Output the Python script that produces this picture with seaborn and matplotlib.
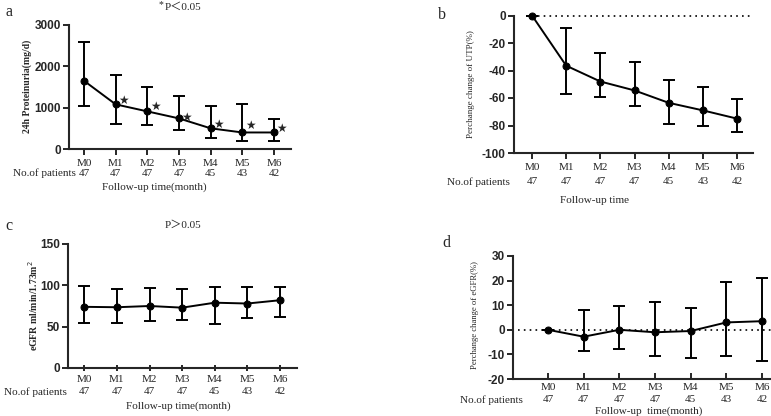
import numpy as np
import pandas as pd
import matplotlib
matplotlib.use("Agg")
import matplotlib.pyplot as plt
import seaborn as sns

sns.set_theme(style="ticks")
plt.rcParams['font.family'] = ['Liberation Serif', 'DejaVu Serif']

# ---------------- data ----------------
months = ["M0", "M1", "M2", "M3", "M4", "M5", "M6"]
n_patients = [47, 47, 47, 47, 45, 43, 42]

# a: 24h proteinuria (mg/d)
prot_mean = [1650, 1080, 910, 740, 500, 400, 400]
prot_low = [1050, 600, 580, 450, 260, 200, 190]
prot_high = [2600, 1780, 1500, 1290, 1030, 1080, 720]
star_y = [None, 1180, 1040, 760, 590, 580, 490]

# b: percentage change of UTP (%)
utp_mean = [0, -36.5, -48, -54.5, -63.5, -69, -75]
utp_low = [0, -57, -59, -65.5, -79, -80, -84.5]
utp_high = [0, -9, -27, -34, -47, -52, -61]

# c: eGFR
egfr_mean = [74, 73.5, 75, 73, 79, 78, 82]
egfr_low = [55, 54, 57, 58, 53, 61, 62]
egfr_high = [99, 96, 97, 95, 98, 98, 98]

# d: percentage change of eGFR (%)
degfr_mean = [0, -2.8, 0, -1, -0.5, 3, 3.5]
degfr_low = [0, -8.5, -8, -10.5, -11.5, -10.5, -12.7]
degfr_high = [0, 8, 9.8, 11.2, 9, 19.3, 21.2]

W, H = 771, 416
fig = plt.figure(figsize=(W / 100, H / 100), dpi=100)


def add_ax(l, t, r, b):
    return fig.add_axes([l / W, 1 - b / H, (r - l) / W, (b - t) / H])


def yfrac(ax, ypx):
    bb = ax.get_position()
    return ((1 - ypx / H) - bb.y0) / bb.height


def draw_panel(ax, mean, low, high, xlim, ylim, yticks, tickdir, zero_line=False, zl_start=0.0):
    x = np.arange(len(months))
    df = pd.DataFrame({"x": x, "y": mean})
    if zero_line:
        ax.plot([zl_start, xlim[1]], [0, 0], ls=(0, (1, 2.5)), color="black", lw=1.2, clip_on=False, zorder=1)
    m = np.array(mean, float)
    yerr = np.vstack([m - np.array(low, float), np.array(high, float) - m])
    ax.errorbar(x, m, yerr=yerr, fmt="none", ecolor="black", elinewidth=1.4, capsize=4, capthick=1.4,
                clip_on=False, zorder=2)
    sns.lineplot(data=df, x="x", y="y", ax=ax, color="black", lw=1.4, marker="o", markersize=5,
                 markeredgecolor="black", markerfacecolor="black", clip_on=False, zorder=3)
    ax.set_xlim(*xlim)
    ax.set_ylim(*ylim)
    ax.set_yticks(yticks)
    ax.set_yticklabels([str(v) for v in yticks], fontfamily="Liberation Sans", fontweight="bold", fontsize=8.5)
    ax.set_xticks(x)
    ax.set_xticklabels(months, fontsize=8)
    ax.tick_params(axis="x", direction=tickdir, length=4, width=1.4, pad=3)
    ax.tick_params(axis="y", direction="out", length=4, width=1.4, pad=2)
    for s in ["top", "right"]:
        ax.spines[s].set_visible(False)
    for s in ["left", "bottom"]:
        ax.spines[s].set_linewidth(1.5)
    ax.set_xlabel("")
    ax.set_ylabel("")


# ---- panel a ----
axa = add_ax(69, 25, 291, 149)
draw_panel(axa, prot_mean, prot_low, prot_high, (-0.474, 6.537), (0, 3000), [0, 1000, 2000, 3000], "out")
for i, sy in enumerate(star_y):
    if sy is not None:
        axa.text(i + 0.25, sy, "★", fontsize=8.5, fontfamily="DejaVu Sans", ha="center", va="center")
fig.text(27 / W, 1 - 86 / H, "24h Proteinuria(mg/d)", rotation=90, ha="center", va="center",
         fontsize=7, fontweight="bold")
fig.text(5 / W, 1 - 12 / H, "a", fontsize=11.5, ha="left", va="center")
fig.text(161 / W, 1 - 5 / H, "*", fontsize=7, ha="center", va="center")
fig.text(183 / W, 1 - 7 / H, "P＜0.05", fontsize=8, ha="center", va="center",
         fontfamily=["Liberation Serif", "Noto Sans CJK SC"])
fig.text(13 / W, 1 - 173 / H, "No.of patients", fontsize=8, ha="left", va="center")
for i, n in enumerate(n_patients):
    axa.text(i, yfrac(axa, 173), str(n), transform=axa.get_xaxis_transform(), fontsize=8,
             ha="center", va="center")
fig.text(154 / W, 1 - 187 / H, "Follow-up time(month)", fontsize=8, ha="center", va="center")

# ---- panel b ----
axb = add_ax(514, 15.5, 753, 153)
draw_panel(axb, utp_mean, utp_low, utp_high, (-0.527, 6.468), (-100, 0), [-100, -80, -60, -40, -20, 0],
           "out", zero_line=True, zl_start=0.0)
fig.text(471 / W, 1 - 84 / H, "Perchange change of UTP(%)", rotation=90, ha="center", va="center",
         fontsize=6.5)
fig.text(438 / W, 1 - 15 / H, "b", fontsize=11.5, ha="left", va="center")
fig.text(447 / W, 1 - 182 / H, "No.of patients", fontsize=8, ha="left", va="center")
for i, n in enumerate(n_patients):
    axb.text(i, yfrac(axb, 182), str(n), transform=axb.get_xaxis_transform(), fontsize=8,
             ha="center", va="center")
fig.text(594 / W, 1 - 200 / H, "Follow-up time", fontsize=8, ha="center", va="center")

# ---- panel c ----
axc = add_ax(68, 244, 297, 368)
draw_panel(axc, egfr_mean, egfr_low, egfr_high, (-0.5, 6.52), (0, 150), [0, 50, 100, 150], "inout")
fig.text(33 / W, 1 - 306 / H, "eGFR ml/min/1.73m$^{2}$", rotation=90, ha="center", va="center",
         fontsize=7, fontweight="bold")
fig.text(5 / W, 1 - 226 / H, "c", fontsize=11.5, ha="left", va="center")
fig.text(183 / W, 1 - 225 / H, "P＞0.05", fontsize=8, ha="center", va="center",
         fontfamily=["Liberation Serif", "Noto Sans CJK SC"])
fig.text(4 / W, 1 - 392 / H, "No.of patients", fontsize=8, ha="left", va="center")
for i, n in enumerate(n_patients):
    axc.text(i, yfrac(axc, 392), str(n), transform=axc.get_xaxis_transform(), fontsize=8,
             ha="center", va="center")
fig.text(178 / W, 1 - 406 / H, "Follow-up time(month)", fontsize=8, ha="center", va="center")

# ---- panel d ----
axd = add_ax(513, 256, 771, 379)
draw_panel(axd, degfr_mean, degfr_low, degfr_high, (-0.98, 6.25), (-20, 30), [-20, -10, 0, 10, 20, 30],
           "in", zero_line=True, zl_start=-0.85)
fig.text(475 / W, 1 - 315 / H, "Perchange change of eGFR(%)", rotation=90, ha="center", va="center",
         fontsize=6.2)
fig.text(442 / W, 1 - 243 / H, "d", fontsize=11.5, ha="left", va="center")
fig.text(460 / W, 1 - 400 / H, "No.of patients", fontsize=8, ha="left", va="center")
for i, n in enumerate(n_patients):
    axd.text(i, yfrac(axd, 400), str(n), transform=axd.get_xaxis_transform(), fontsize=8,
             ha="center", va="center")
fig.text(649 / W, 1 - 411 / H, "Follow-up  time(month)", fontsize=8, ha="center", va="center")

fig.savefig("out.png", dpi=100)
